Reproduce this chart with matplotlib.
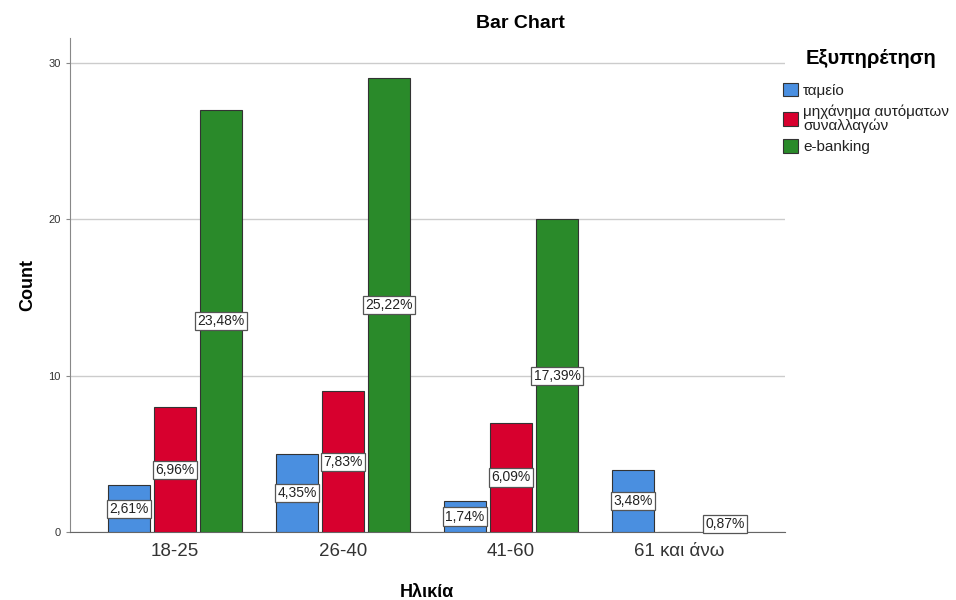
import numpy as np
import matplotlib
matplotlib.use("Agg")
import matplotlib.pyplot as plt
from matplotlib.patches import Patch

plt.rcParams['font.family'] = ['Liberation Sans', 'DejaVu Sans']

### data
categories = ["18-25", "26-40", "41-60", "61 και άνω"]
series_names = ["ταμείο", "μηχάνημα αυτόματων\nσυναλλαγών", "e-banking"]
tameio = [3, 5, 2, 4]
atm = [8, 9, 7, 0]
ebanking = [27, 29, 20, 1]
TOTAL = 115

colors = ["#4a8fe0", "#d7002e", "#2a8a2a"]

fig = plt.figure(figsize=(9.56, 6), dpi=100)
ax = fig.add_axes([0.073, 0.113, 0.748, 0.824])

x = np.arange(len(categories))
width = 0.25
step = 0.274
all_series = [tameio, atm, ebanking]

for i, vals in enumerate(all_series):
    xs = x + (i - 1) * step
    ax.bar(xs, vals, width=width, color=colors[i], edgecolor="#333333",
           linewidth=0.8, zorder=3)
    for xi, v in zip(xs, vals):
        if v == 0:
            continue
        pct = f"{v / TOTAL * 100:.2f}%".replace(".", ",")
        ax.text(xi, v / 2, pct, ha="center", va="center", fontsize=10,
                color="#222222", zorder=5,
                bbox=dict(boxstyle="square,pad=0.15", fc="white",
                          ec="#555555", lw=0.9))

ax.set_xlim(-0.625, 3.63)
ax.set_ylim(0, 31.6)
ax.set_yticks([0, 10, 20, 30])
ax.set_xticks(x)
ax.set_xticklabels(categories, fontsize=13.5, color="#333333")
ax.tick_params(axis="y", labelsize=8, length=3, color="#888888", labelcolor="#333333")
ax.tick_params(axis="x", length=0, pad=8)
ax.yaxis.grid(True, color="#cccccc", linewidth=1, zorder=0)
ax.set_axisbelow(True)

for s in ["top", "right"]:
    ax.spines[s].set_visible(False)
ax.spines["left"].set_color("#888888")
ax.spines["bottom"].set_color("#666666")

ax.set_ylabel("Count", fontsize=13, fontweight="bold")
ax.yaxis.set_label_coords(-0.047, 0.5)
ax.set_xlabel("Ηλικία", fontsize=13, fontweight="bold")
ax.xaxis.set_label_coords(0.5, -0.104)
fig.text(0.544, 0.961, "Bar Chart", ha="center", va="center",
         fontsize=14, fontweight="bold")

### legend (title drawn separately for spacing)
fig.text(0.911, 0.903, "Εξυπηρέτηση", ha="center", va="center",
         fontsize=14.5, fontweight="bold")
handles = [Patch(facecolor=c, edgecolor="#333333", linewidth=0.8) for c in colors]
leg = fig.legend(handles, series_names, loc="upper left",
                 bbox_to_anchor=(0.819, 0.862), frameon=False,
                 fontsize=11, borderpad=0, borderaxespad=0,
                 handlelength=1.0, handleheight=1.0, handletextpad=0.33,
                 labelspacing=0.42)
for t in leg.get_texts():
    t.set_linespacing(0.95)
    t.set_color("#222222")

fig.savefig("out.png", dpi=100)
